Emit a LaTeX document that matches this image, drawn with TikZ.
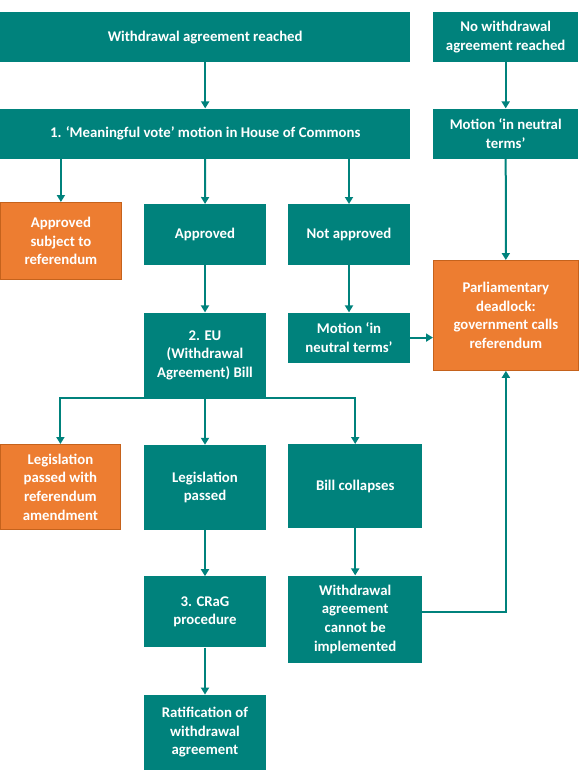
\documentclass[tikz,border=0pt]{standalone}
\usepackage{fontspec}
\setmainfont{Carlito}
\usepackage{tikz}
\usetikzlibrary{arrows.meta, positioning}

\definecolor{teal}{RGB}{0,130,124}
\definecolor{ornge}{RGB}{237,125,49}
\definecolor{orngeline}{RGB}{197,98,28}

\begin{document}
\begin{tikzpicture}[
        x=1pt, y=-1pt,
        font=\fontsize{14.8}{18.7}\selectfont\bfseries,
        >={Triangle[width=8pt, length=7pt]},
        tbox/.style={fill=teal, text=white, align=center, inner sep=3pt},
        obox/.style={fill=ornge, draw=orngeline, line width=0.8pt, text=white, align=center, inner sep=3pt},
        arr/.style={->, draw=teal, line width=2pt}
    ]
        \useasboundingbox (0,0) rectangle (582,780);

        % --- Top row ---
        \node[tbox, anchor=north west, minimum width=410pt, minimum height=50pt] (agreed) at (0,12) {Withdrawal agreement reached};
        \node[tbox, anchor=north west, minimum width=145pt, minimum height=50pt] (noagreed) at (433,12) {No withdrawal\\agreement reached};
        \node[tbox, below=46pt of agreed, minimum width=410pt, minimum height=50pt] (vote) {1. ‘Meaningful vote’ motion in House of Commons};
        \node[tbox, below=46pt of noagreed, minimum width=145pt, minimum height=50pt] (neutralA) {Motion ‘in neutral\\terms’};
        \draw[arr] (agreed) -- (vote);
        \draw[arr] (noagreed) -- (neutralA);

        % --- Outcomes of the vote ---
        \node[obox, anchor=north west, minimum width=121pt, minimum height=77pt] (apprref) at (0,202) {Approved\\subject to\\referendum};
        \node[tbox, anchor=north, minimum width=122pt, minimum height=61pt] (approved) at (205,204) {Approved};
        \node[tbox, anchor=north, minimum width=122pt, minimum height=61pt] (notappr) at (349,204) {Not approved};
        \node[obox, anchor=north west, minimum width=145pt, minimum height=110pt] (deadlock) at (433,260) {Parliamentary\\deadlock:\\government calls\\referendum};
        \draw[arr] (vote.south -| apprref) -- (apprref);
        \draw[arr] (vote) -- (approved);
        \draw[arr] (vote.south -| notappr) -- (notappr);
        \draw[arr] (neutralA) -- (deadlock);

        \node[tbox, below=47pt of notappr, minimum width=122pt, minimum height=50pt] (neutralB) {Motion ‘in\\neutral terms’};
        \node[tbox, below=47pt of approved, minimum width=122pt, minimum height=85pt] (bill) {2. EU\\(Withdrawal\\Agreement) Bill};
        \draw[arr] (notappr) -- (neutralB);
        \draw[arr] (approved) -- (bill);
        \draw[arr] (neutralB) -- (neutralB.east -| deadlock.west);

        % --- The Bill ---
        \node[obox, anchor=north west, minimum width=120pt, minimum height=85pt] (legref) at (0,444) {Legislation\\passed with\\referendum\\amendment};
        \node[tbox, below=47pt of bill, minimum width=122pt, minimum height=85pt] (legpass) {Legislation\\passed};
        \node[tbox, anchor=north west, minimum width=134pt, minimum height=84pt] (collapse) at (288,444) {Bill collapses};
        \draw[arr] (bill.south) -| (legref);
        \draw[arr] (bill) -- (legpass);
        \draw[arr] (bill.south) -| (collapse);

        \node[tbox, below=46pt of legpass, minimum width=122pt, minimum height=71pt] (crag) {3. CRaG\\procedure};
        \node[tbox, below=47pt of crag, minimum width=122pt, minimum height=75pt] (ratify) {Ratification of\\withdrawal\\agreement};
        \node[tbox, below=47pt of collapse, minimum width=134pt, minimum height=87pt] (noimpl) {Withdrawal\\agreement\\cannot be\\implemented};
        \draw[arr] (legpass) -- (crag);
        \draw[arr] (crag) -- (ratify);
        \draw[arr] (collapse) -- (noimpl);
        \draw[arr] ([yshift=7pt]noimpl.east) -| (deadlock);
    \end{tikzpicture}
\end{document}
